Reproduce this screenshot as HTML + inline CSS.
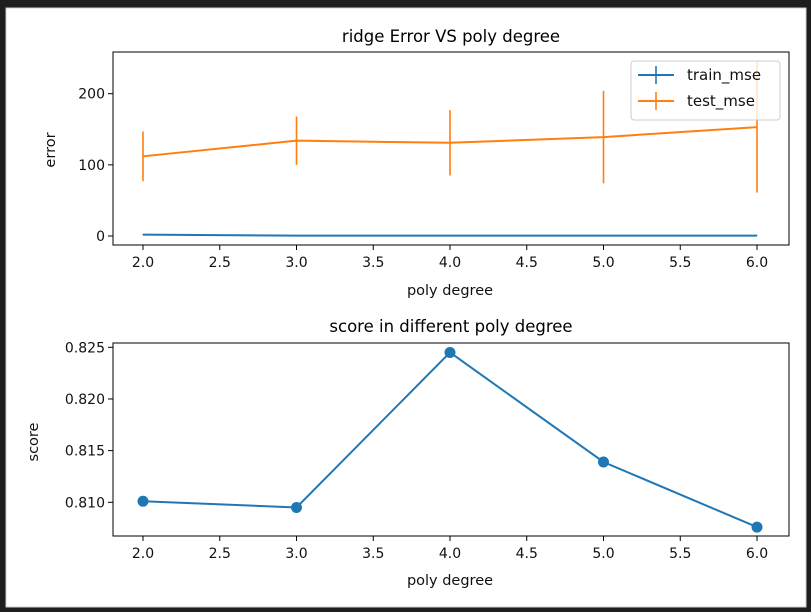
<!DOCTYPE html>
<html><head><meta charset="utf-8"><style>
html,body{margin:0;padding:0;background:#1e1e1e;}
svg{display:block;font-family:"DejaVu Sans","Liberation Sans",sans-serif;}
</style></head><body>
<svg id="fig" width="811" height="612" viewBox="0 0 811 612">
<rect x="0" y="0" width="811" height="612" fill="#1e1e1e"/>
<rect x="6" y="8" width="800" height="599" fill="#ffffff" stroke="#cfcfcf" stroke-width="1"/>
<g id="topChart"></g>
<g id="botChart"></g>
</svg>
<script>
const degrees = [2, 3, 4, 5, 6];
const trainMse = [2, 0.5, 0.5, 0.5, 0.5];
const trainErr = [0.5, 0.3, 0.3, 0.3, 0.3];
const testMse = [112, 134, 131, 139, 153];
const testErr = [35, 34, 46, 65, 92];
const scores = [0.8101, 0.8095, 0.8245, 0.8139, 0.8076];
const xTicks = [2.0, 2.5, 3.0, 3.5, 4.0, 4.5, 5.0, 5.5, 6.0];
const errTicks = [0, 100, 200];
const scoreTicks = [0.810, 0.815, 0.820, 0.825];

const NS = "http://www.w3.org/2000/svg";
function mk(parent, tag, attrs, text){
  const e = document.createElementNS(NS, tag);
  for (const k in attrs) e.setAttribute(k, attrs[k]);
  if (text !== undefined) e.textContent = text;
  parent.appendChild(e);
  return e;
}
const L = 113, R = 789;
const FS = 14;
const xs = v => 143 + (v - 2) * (757 - 143) / 4;

// ---- top chart ----
const topG = document.getElementById('topChart');
const T0 = 52, B0 = 245;
const ys1 = v => 236 - v * (236 - 93.7) / 200;
mk(topG, 'rect', {x:L, y:T0, width:R-L, height:B0-T0, fill:'#fff'});
let t = mk(topG, 'text', {x:451, y:42, 'text-anchor':'middle', 'font-size':16.5, fill:'#000'}, 'ridge Error VS poly degree');


xTicks.forEach(v => {
  mk(topG, 'line', {x1:xs(v), x2:xs(v), y1:B0, y2:B0+5, stroke:'#000', 'stroke-width':1});
  const lb = mk(topG, 'text', {x:xs(v), y:B0+22, 'text-anchor':'middle', 'font-size':FS, fill:'#111'}, v.toFixed(1));
  
  
});
errTicks.forEach(v => {
  mk(topG, 'line', {x1:L-5, x2:L, y1:ys1(v), y2:ys1(v), stroke:'#000', 'stroke-width':1});
  const lb = mk(topG, 'text', {x:L-8, y:ys1(v)+5, 'text-anchor':'end', 'font-size':FS, fill:'#111'}, String(v));
  
  
});
t = mk(topG, 'text', {x:450, y:295, 'text-anchor':'middle', 'font-size':14.5, fill:'#111'}, 'poly degree');


t = mk(topG, 'text', {x:55, y:150, 'text-anchor':'middle', 'font-size':14.5, fill:'#111', transform:'rotate(-90 55 150)'}, 'error');



function series(vals, errs, color, name){
  const g = mk(topG, 'g', {});
  
  
  mk(g, 'polyline', {points: vals.map((v,i)=>xs(degrees[i])+','+ys1(v)).join(' '), fill:'none', stroke:color, 'stroke-width':2});
  vals.forEach((v,i)=>{
    const eb = mk(g, 'line', {x1:xs(degrees[i]), x2:xs(degrees[i]), y1:ys1(v+errs[i]), y2:ys1(v-errs[i]), stroke:color, 'stroke-width':1.6});
    
    
  });
}
series(trainMse, trainErr, '#1f77b4', 'train-mse-series');
series(testMse, testErr, '#ff7f0e', 'test-mse-series');
mk(topG, 'rect', {x:L, y:T0, width:R-L, height:B0-T0, fill:'none', stroke:'#000', 'stroke-width':1});
const lg = mk(topG, 'g', {});


mk(lg, 'rect', {x:631, y:61, width:149, height:59, rx:3, fill:'#fff', 'fill-opacity':0.8, stroke:'#ccc'});
mk(lg, 'line', {x1:638, x2:674, y1:75, y2:75, stroke:'#1f77b4', 'stroke-width':2});
mk(lg, 'line', {x1:656, x2:656, y1:66, y2:84, stroke:'#1f77b4', 'stroke-width':1.6});
mk(lg, 'line', {x1:638, x2:674, y1:101, y2:101, stroke:'#ff7f0e', 'stroke-width':2});
mk(lg, 'line', {x1:656, x2:656, y1:92, y2:110, stroke:'#ff7f0e', 'stroke-width':1.6});
t = mk(lg, 'text', {x:687, y:80, 'font-size':15, fill:'#111'}, 'train_mse');


t = mk(lg, 'text', {x:687, y:106, 'font-size':15, fill:'#111'}, 'test_mse');



// ---- bottom chart ----
const botG = document.getElementById('botChart');
const T1 = 343, B1 = 536;
const ys2 = v => 502.3 - (v - 0.810) * (502.3 - 347.3) / 0.015;
mk(botG, 'rect', {x:L, y:T1, width:R-L, height:B1-T1, fill:'#fff', stroke:'#000', 'stroke-width':1});
t = mk(botG, 'text', {x:451, y:332, 'text-anchor':'middle', 'font-size':16.5, fill:'#000'}, 'score in different poly degree');


xTicks.forEach(v => {
  mk(botG, 'line', {x1:xs(v), x2:xs(v), y1:B1, y2:B1+5, stroke:'#000', 'stroke-width':1});
  const lb = mk(botG, 'text', {x:xs(v), y:B1+22, 'text-anchor':'middle', 'font-size':FS, fill:'#111'}, v.toFixed(1));
  
  
});
scoreTicks.forEach(v => {
  mk(botG, 'line', {x1:L-5, x2:L, y1:ys2(v), y2:ys2(v), stroke:'#000', 'stroke-width':1});
  const lb = mk(botG, 'text', {x:L-8, y:ys2(v)+5, 'text-anchor':'end', 'font-size':FS, fill:'#111'}, v.toFixed(3));
  
  
});
t = mk(botG, 'text', {x:450, y:585, 'text-anchor':'middle', 'font-size':14.5, fill:'#111'}, 'poly degree');


t = mk(botG, 'text', {x:38, y:442, 'text-anchor':'middle', 'font-size':14.5, fill:'#111', transform:'rotate(-90 38 442)'}, 'score');


const sl = mk(botG, 'polyline', {points: scores.map((v,i)=>xs(degrees[i])+','+ys2(v)).join(' '), fill:'none', stroke:'#1f77b4', 'stroke-width':2});


scores.forEach((v,i)=>{
  const c = mk(botG, 'circle', {cx:xs(degrees[i]), cy:ys2(v), r:5.5, fill:'#1f77b4'});
  
  
});
</script>
</body></html>
